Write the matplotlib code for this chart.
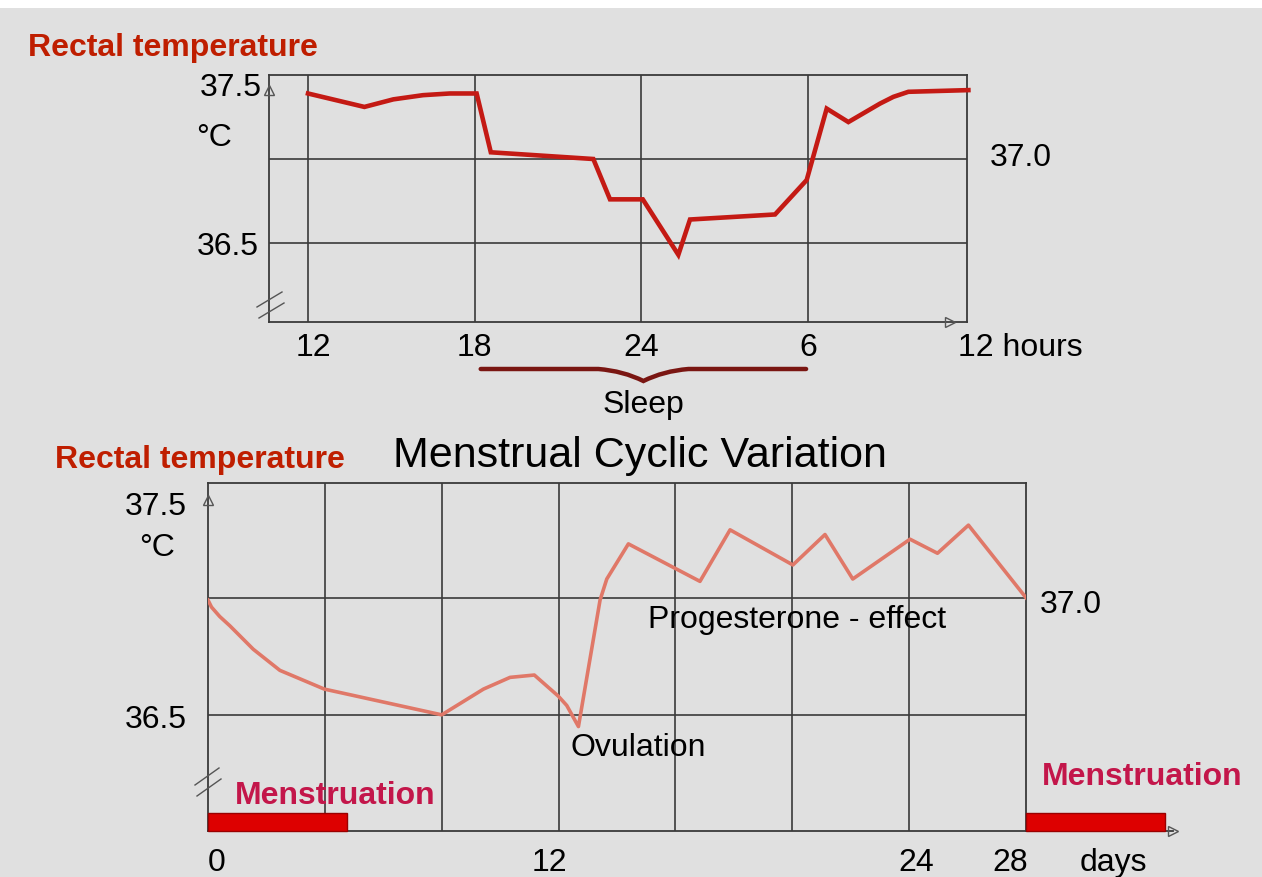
import matplotlib
matplotlib.use("Agg")
import matplotlib.pyplot as plt
from matplotlib.path import Path
from matplotlib.patches import PathPatch, Rectangle
from matplotlib.lines import Line2D

plt.rcParams['font.family'] = ['Liberation Sans', 'DejaVu Sans']

# ---------------- data ----------------
# Circadian variation (top panel)
hours = [12.0, 14.03, 15.07, 16.14, 17.1, 18.07, 18.58, 22.27, 22.87, 24.05,
         25.33, 25.75, 28.81, 29.95, 30.67, 31.45, 32.59, 33.07, 33.61, 35.77]
hour_temps = [37.39, 37.31, 37.355, 37.38, 37.39, 37.39, 37.04, 37.0, 36.76, 36.76,
              36.43, 36.64, 36.67, 36.875, 37.30, 37.22, 37.33, 37.37, 37.40, 37.41]
hour_ticks = [12, 18, 24, 30]
hour_labels = ['12', '18', '24', '6']
sleep_span = [18, 30]

# Menstrual cycle (bottom panel)
days = [0, 0.12, 0.4, 0.75, 1.55, 2.46, 3.98, 8.0, 9.43, 10.34, 11.17, 11.99, 12.28,
        12.68, 13.42, 13.65, 14.39, 16.84, 17.87, 20.02, 21.12, 22.07, 24.03,
        24.97, 26.03, 28.0]
day_temps = [36.99, 36.96, 36.92, 36.88, 36.78, 36.69, 36.61, 36.50, 36.61, 36.66,
             36.67, 36.58, 36.54, 36.45, 36.99, 37.08, 37.23, 37.07, 37.29, 37.14,
             37.27, 37.08, 37.25, 37.19, 37.31, 37.00]
day_ticks = [0, 12, 24, 28]
day_labels = ['0', '12', '24', '28']
menses_start = [0, 28]
menses_length = [4.75, 4.75]
temp_grid = [36.5, 37.0]

# ---------------- style ----------------
W, H = 1262, 877
BG = '#e0e0e0'
GRID = '#3a3a3a'
DARKRED = '#bf1e00'
CRIMSON = '#c3164a'
TXT = 23

fig = plt.figure(figsize=(W / 100, H / 100), dpi=100, facecolor=BG)


def fx(x):
    return x / W


def fy(y):
    return 1 - y / H


def px(p):
    return p * 0.72  # pixels -> points


def setup(ax):
    ax.set_facecolor(BG)
    for s in ax.spines.values():
        s.set_color(GRID)
        s.set_linewidth(1.3)
    ax.tick_params(length=0, labelleft=False, labelbottom=False)
    ax.set_yticks([])
    ax.set_xticks([])
    for t in temp_grid:
        ax.axhline(t, color=GRID, lw=1.2, zorder=1)


# ---------------- top panel ----------------
ax1 = fig.add_axes([fx(269), fy(322), fx(967 - 269), (322 - 75) / H])
setup(ax1)
ax1.set_xlim(10.596, 35.72)
ax1.set_ylim(36.03, 37.5)
for h in hour_ticks:
    ax1.axvline(h, color=GRID, lw=1.2, zorder=1)
ax1.plot(hours, hour_temps, color='#c41a14', lw=3.3, zorder=3,
         solid_joinstyle='miter', clip_on=False)

for h, lab in zip(hour_ticks, hour_labels):
    dx = 5 if lab == '12' else 0
    ax1.annotate(lab, xy=(h, 0), xycoords=('data', 'axes fraction'),
                 xytext=(px(dx), px(-26)), textcoords='offset points',
                 ha='center', va='center', fontsize=TXT)
ax1.annotate('12 hours', xy=(1, 0), xycoords='axes fraction',
             xytext=(px(-9), px(-26)), textcoords='offset points',
             ha='left', va='center', fontsize=TXT)

ax1.annotate('37.5', xy=(0, 37.5), xycoords=('axes fraction', 'data'),
             xytext=(px(-7), px(-13)), textcoords='offset points',
             ha='right', va='center', fontsize=TXT)
ax1.annotate('36.5', xy=(0, 36.5), xycoords=('axes fraction', 'data'),
             xytext=(px(-10), px(-4)), textcoords='offset points',
             ha='right', va='center', fontsize=TXT)
ax1.annotate('37.0', xy=(1, 37.0), xycoords=('axes fraction', 'data'),
             xytext=(px(23), px(1)), textcoords='offset points',
             ha='left', va='center', fontsize=TXT)
fig.text(fx(196), fy(138), '°C', ha='left', va='center', fontsize=TXT)

# axis arrows
ax1.plot([0], [0.94], marker='^', ms=7, mfc='none', mec='#555555', mew=1,
         transform=ax1.transAxes, clip_on=False, zorder=5)
ax1.plot([0.975], [0.0], marker='>', ms=7, mfc='none', mec='#555555', mew=1,
         transform=ax1.transAxes, clip_on=False, zorder=5)

# axis-break marks
for (x0, y0, x1, y1) in [(257, 307, 282, 292), (259, 318, 284, 303)]:
    fig.add_artist(Line2D([fx(x0), fx(x1)], [fy(y0), fy(y1)], color='#555555', lw=1))

fig.text(fx(28), fy(48), 'Rectal temperature', ha='left', va='center',
         fontsize=TXT, fontweight='bold', color=DARKRED)

# sleep brace
xl = ax1.transData.transform((sleep_span[0], 37))[0] + 6
xr = ax1.transData.transform((sleep_span[1], 37))[0] - 2
xm = (xl + xr) / 2
yb = 877 - 369
verts = [(xl, yb), (xm - 45, yb), (xm - 20, yb - 2), (xm, yb - 12),
         (xm + 20, yb - 2), (xm + 45, yb), (xr, yb)]
codes = [Path.MOVETO, Path.LINETO, Path.CURVE3, Path.CURVE3, Path.CURVE3,
         Path.CURVE3, Path.LINETO]
verts = [(v[0] / W, v[1] / H) for v in verts]
fig.add_artist(PathPatch(Path(verts, codes), fill=False, ec='#7a1612', lw=3.2,
                         capstyle='round', transform=fig.transFigure))
fig.text(fx(643), fy(405), 'Sleep', ha='center', va='center', fontsize=TXT)

# ---------------- bottom panel ----------------
ax2 = fig.add_axes([fx(208), fy(831), fx(1026 - 208), (831 - 483) / H])
setup(ax2)
ax2.set_xlim(0, 28)
ax2.set_ylim(36.004, 37.49)
for d in range(4, 28, 4):
    ax2.axvline(d, color=GRID, lw=1.2, zorder=1)
ax2.plot(days, day_temps, color='#e07868', lw=2.6, zorder=3)

# menstruation bars
ax2.bar(menses_start, [0.077] * len(menses_start), width=menses_length,
        bottom=36.004, align='edge', color='#dd0000', edgecolor='#9a0000',
        lw=1, zorder=4, clip_on=False)
# extended axis line + arrow
ax2.plot([1.0, 1.18], [0, 0], color=GRID, lw=1.3, transform=ax2.transAxes,
         clip_on=False, zorder=2)
ax2.plot([1.18], [0], marker='>', ms=7, mfc='none', mec='#555555', mew=1,
         transform=ax2.transAxes, clip_on=False, zorder=5)
ax2.plot([0], [0.95], marker='^', ms=7, mfc='none', mec='#555555', mew=1,
         transform=ax2.transAxes, clip_on=False, zorder=5)
for (x0, y0, x1, y1) in [(195, 785, 219, 768), (197, 796, 221, 779)]:
    fig.add_artist(Line2D([fx(x0), fx(x1)], [fy(y0), fy(y1)], color='#555555', lw=1))

offsets = {'0': 9, '12': -9, '24': 7, '28': -16}
for d, lab in zip(day_ticks, day_labels):
    ax2.annotate(lab, xy=(d, 0), xycoords=('data', 'axes fraction'),
                 xytext=(px(offsets[lab]), px(-32)), textcoords='offset points',
                 ha='center', va='center', fontsize=TXT)
fig.text(fx(1080), fy(863), 'days', ha='left', va='center', fontsize=TXT)

ax2.annotate('37.5', xy=(0, 37.5), xycoords=('axes fraction', 'data'),
             xytext=(px(-21), px(-26)), textcoords='offset points',
             ha='right', va='center', fontsize=TXT)
ax2.annotate('36.5', xy=(0, 36.5), xycoords=('axes fraction', 'data'),
             xytext=(px(-21), px(-5)), textcoords='offset points',
             ha='right', va='center', fontsize=TXT)
ax2.annotate('37.0', xy=(1, 37.0), xycoords=('axes fraction', 'data'),
             xytext=(px(14), px(-7)), textcoords='offset points',
             ha='left', va='center', fontsize=TXT)
fig.text(fx(139), fy(548), '°C', ha='left', va='center', fontsize=TXT)

ax2.text(15.05, 36.905, 'Progesterone - effect', ha='left', va='center', fontsize=TXT)
ax2.text(12.4, 36.36, 'Ovulation', ha='left', va='center', fontsize=TXT)

fig.text(fx(55), fy(460), 'Rectal temperature', ha='left', va='center',
         fontsize=TXT, fontweight='bold', color=DARKRED)
fig.text(fx(393), fy(456), 'Menstrual Cyclic Variation', ha='left', va='center',
         fontsize=31)
fig.text(fx(235), fy(796), 'Menstruation', ha='left', va='center',
         fontsize=TXT, fontweight='bold', color=CRIMSON)
fig.text(fx(1042), fy(777), 'Menstruation', ha='left', va='center',
         fontsize=TXT, fontweight='bold', color=CRIMSON)

# white strip at the very top
fig.add_artist(Rectangle((0, fy(8)), 1, 8 / H, transform=fig.transFigure,
                         facecolor='white', edgecolor='none'))

fig.savefig('out.png', dpi=100, facecolor=BG)
